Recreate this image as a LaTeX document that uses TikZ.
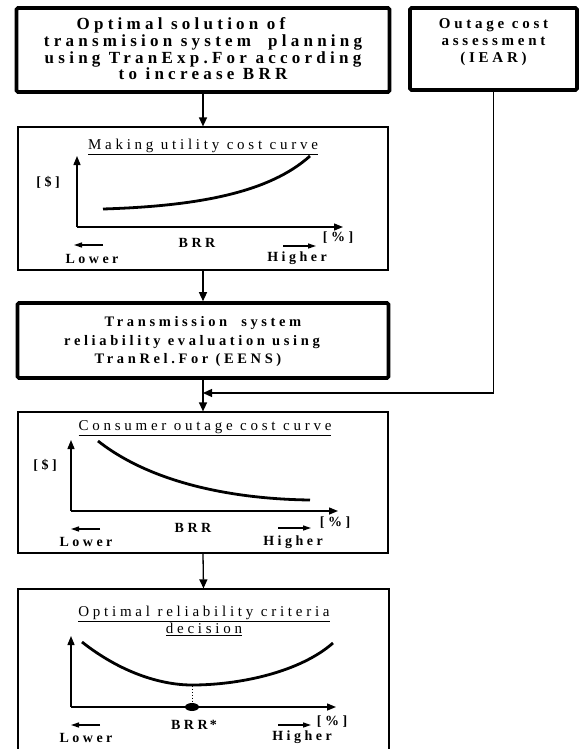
\documentclass[tikz,border=0pt]{standalone}
\usepackage{fontspec}
\setmainfont{Liberation Serif}
\newfontfamily\spaced[LetterSpace=25]{Liberation Serif}
\usetikzlibrary{arrows.meta}

\tikzset{
  thickbox/.style={draw, line width=3.6pt, rounded corners=1.5pt, inner sep=0pt},
  thinbox/.style={draw, line width=1.2pt, inner sep=0pt},
  flow/.style={line width=1.3pt, -{Triangle[length=9pt,width=8pt]}},
  axisline/.style={line width=1.4pt, -{Triangle[length=9pt,width=7pt]}},
  dirarrow/.style={line width=1.3pt, -{Triangle[length=8pt,width=5pt]}},
  costcurve/.style={line width=2.8pt},
  boxtext/.style={font=\spaced\bfseries\fontsize{17}{16.7}\selectfont, align=center, inner sep=0pt},
  midtext/.style={font=\spaced\bfseries\fontsize{14.5}{18.5}\selectfont, align=center, inner sep=0pt},
  plottitle/.style={font=\spaced\fontsize{15}{17}\selectfont, align=center, inner sep=0pt},
  plotlabel/.style={font=\spaced\bfseries\fontsize{14}{14}\selectfont, inner sep=0pt},
}

\begin{document}
\begin{tikzpicture}[x=1pt, y=-1pt]
\useasboundingbox (0,0) rectangle (581,749);
\clip (0,0) rectangle (581,749);

% ---- process boxes ----
\node[thickbox, minimum width=373pt, minimum height=84pt] (plan) at (203,50) {};
\node[boxtext] (plantext) at (203,49) {Optimal solution of\hspace{44pt}\mbox{}\\transmision system\ \ planning\\using TranExp.For according\\to increase BRR};

\node[thickbox, minimum width=167pt, minimum height=82pt] (iear) at (493.5,49) {};
\node[boxtext, font=\spaced\bfseries\fontsize{15}{16.7}\selectfont] (ieartext) at (493.5,42) {Outage cost\\assessment\\(IEAR)};

\node[thinbox, minimum width=370pt, minimum height=143pt] (util) at (203,198.5) {};

\node[thickbox, minimum width=371pt, minimum height=75pt] (rel) at (203,340.5) {};
\node[midtext] (reltext) at (203,342) {Transmission\hspace{14pt}system\\reliability evaluation using\hspace{22pt}\mbox{}\\TranRel.For (EENS)\hspace{30pt}\mbox{}};

\node[thinbox, minimum width=370pt, minimum height=141pt] (cons) at (203,482.5) {};

\node[thinbox, minimum width=371pt, minimum height=175pt] (opt) at (203.5,676.5) {};

% ---- flow connectors ----
\coordinate (join) at (203,393);
\draw[flow] (plan.south) -- (util.north);
\draw[flow] (util.south) -- (rel.north);
\draw[flow] (rel.south) -- (cons.north);
\draw[flow] (iear.south) |- (join);
\draw[flow] (cons.south) -- (opt.north);

% ---- utility cost curve ----
\node[plottitle] (utitle) at (203,147) {\underline{Making utility cost curve}};
\draw[axisline] (77,227) -- (77,156);
\draw[axisline] (77,227) -- (343,227);
\draw[costcurve] (103,209) .. controls (200,206) and (270,192) .. (310,156);
\node[plotlabel] (udollar) at (48,182) {[\$]};
\node[plotlabel] (ubrr) at (197,243) {BRR};
\draw[dirarrow] (103,245) -- (74,245);
\node[plotlabel] (ulower) at (92,259) {Lower};
\draw[dirarrow] (283,246) -- (316,246);
\node[plotlabel] (uhigher) at (297,258) {Higher};
\node[plotlabel] (upct) at (338,238) {[\%]};

% ---- consumer outage cost curve ----
\node[plottitle] (ctitle) at (205,428) {\underline{Consumer outage cost curve}};
\draw[axisline] (71,511) -- (71,440);
\draw[axisline] (71,511) -- (338,511);
\draw[costcurve] (98,441) .. controls (150,482) and (230,499) .. (310,500);
\node[plotlabel] (cdollar) at (45,465) {[\$]};
\node[plotlabel] (cbrr) at (193,528) {BRR};
\draw[dirarrow] (100,529) -- (71,529);
\node[plotlabel] (clower) at (86,542) {Lower};
\draw[dirarrow] (278,528) -- (311,528);
\node[plotlabel] (chigher) at (293,542) {Higher};
\node[plotlabel] (cpct) at (335,523) {[\%]};

% ---- optimal reliability criteria ----
\node[plottitle] (otitle) at (204,621) {\underline{Optimal reliability criteria}\\\underline{decision}};
\draw[axisline] (71,707) -- (71,636);
\draw[axisline] (71,707) -- (336,707);
\draw[costcurve] (82,642) .. controls (120,672) and (160,685) .. (192,685)
                 .. controls (240,685) and (300,672) .. (333,643);
\draw[line width=0.9pt, dotted] (192,686) -- (192,707);
\fill (192,707) ellipse (7pt and 4pt);
\node[plotlabel] (obrr) at (194,725) {BRR\,*};
\draw[dirarrow] (100,725) -- (71,725);
\node[plotlabel] (olower) at (86,738) {Lower};
\draw[dirarrow] (278,725) -- (311,725);
\node[plotlabel] (ohigher) at (302,737) {Higher};
\node[plotlabel] (opct) at (332,722) {[\%]};
\end{tikzpicture}
\end{document}
